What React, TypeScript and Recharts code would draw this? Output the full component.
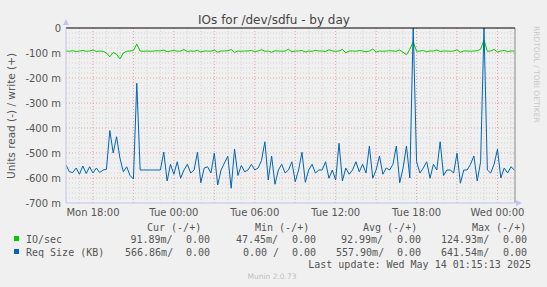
import React from "react";
import { LineChart, Line, XAxis, YAxis, ReferenceLine } from "recharts";

// 15-minute samples, hours since Mon 16:00
const HOURS_STEP = 0.25;

// IO/sec (read, in milli units) — drawn negative
const IO_READ = [
  92, 93, 91, 94, 92, 90, 93, 92, 88, 94,
  92, 93, 100, 115, 98, 105, 124, 100, 93, 92,
  90, 64, 92, 93, 92, 93, 92, 91, 92, 88,
  95, 92, 90, 93, 92, 86, 94, 92, 93, 89,
  96, 92, 92, 93, 88, 97, 92, 92, 91, 86,
  98, 92, 93, 92, 92, 90, 94, 92, 87, 93,
  92, 97, 91, 92, 93, 92, 85, 95, 92, 92,
  90, 96, 92, 93, 89, 92, 92, 94, 87, 92,
  93, 92, 86, 99, 92, 92, 93, 90, 92, 95,
  92, 84, 96, 92, 93, 92, 91, 92, 93, 88,
  97, 107, 85, 55, 93, 92, 90, 95, 92, 92,
  88, 94, 92, 92, 93, 92, 87, 97, 92, 92,
  93, 92, 91, 85, 48, 93, 92, 86, 96, 92,
  90, 94, 92, 92,
];

// Req Size (KB) (read, in milli units) — drawn negative
const REQ_READ = [
  548, 575, 578, 560, 585, 552, 582, 555, 580, 560,
  578, 568, 565, 410, 500, 435, 520, 575, 555, 590,
  604, 221, 568, 568, 568, 568, 568, 568, 568, 496,
  612, 545, 585, 535, 601, 568, 545, 580, 568, 497,
  619, 560, 555, 580, 501, 628, 568, 540, 513, 641,
  484, 590, 550, 575, 568, 545, 568, 560, 530, 455,
  608, 512, 625, 568, 545, 580, 568, 535, 615, 568,
  497, 617, 568, 545, 580, 568, 568, 535, 601, 568,
  608, 461, 612, 560, 585, 568, 535, 575, 545, 580,
  472, 601, 568, 512, 585, 560, 568, 545, 472, 619,
  560, 472, 600, 0, 535, 580, 560, 535, 601, 545,
  568, 455, 590, 568, 568, 580, 501, 621, 568, 568,
  545, 512, 612, 535, 0, 568, 580, 545, 485, 600,
  560, 580, 555, 568,
];

const X_DOMAIN_END = 33.3;
const X_TICKS = [2, 8, 14, 20, 26, 32];
const X_TICK_LABELS = ["Mon 18:00", "Tue 00:00", "Tue 06:00", "Tue 12:00", "Tue 18:00", "Wed 00:00"];
const X_MAJOR_GRID = [2, 5, 8, 11, 14, 17, 20, 23, 26, 29, 32];
const X_MINOR_GRID = [1, 3, 4, 6, 7, 9, 10, 12, 13, 15, 16, 18, 19, 21, 22, 24, 25, 27, 28, 30, 31, 33];
const Y_TICKS = [0, -100, -200, -300, -400, -500, -600, -700];
const Y_TICK_LABELS = ["0", "-100 m", "-200 m", "-300 m", "-400 m", "-500 m", "-600 m", "-700 m"];
const Y_MINOR_GRID: number[] = [];
for (let v = -20; v > -700; v -= 20) if (v % 100 !== 0) Y_MINOR_GRID.push(v);

const SERIES_NAMES = ["IO/sec", "Req Size (KB)"];
const CUR = [["91.89m/", "0.00"], ["566.86m/", "0.00"]];
const MIN = [["47.45m/", "0.00"], ["0.00 /", "0.00"]];
const AVG = [["92.99m/", "0.00"], ["557.90m/", "0.00"]];
const MAX = [["124.93m/", "0.00"], ["641.54m/", "0.00"]];

const GREEN = "#00cc00";
const BLUE = "#0066b3";

const table = IO_READ.map((v, i) => ({
  t: i * HOURS_STEP,
  io: -v,
  req: -REQ_READ[i],
}));

const MONO = "'DejaVu Sans Mono', monospace";
const SANS = "'DejaVu Sans', sans-serif";

export default function App() {
  const rows = [0, 1];
  const colStarts = [
    [130.5, 186],
    [236, 292],
    [341, 397],
    [441, 503],
  ];
  const rowStarts2 = [
    [125, 186],
    [243, 292],
    [336, 397],
    [441, 503],
  ];
  const stats = [CUR, MIN, AVG, MAX];
  return (
    <div style={{ position: "absolute", left: 0, top: 0, width: 547, height: 287, background: "#f0f0f0" }}>
      <LineChart width={547} height={287} data={table} margin={{ top: 28, right: 32, bottom: 54, left: 0 }}>
        <XAxis
          dataKey="t"
          type="number"
          domain={[0, X_DOMAIN_END]}
          ticks={X_TICKS}
          tickFormatter={(v) => X_TICK_LABELS[X_TICKS.indexOf(v)] ?? ""}
          height={30}
          tickLine={false}
          tickSize={0}
          tickMargin={6}
          axisLine={{ stroke: "#c4c4ee" }}
          tick={{ fontFamily: SANS, fontSize: 10, fill: "#555" }}
          allowDataOverflow
        />
        <YAxis
          type="number"
          domain={[-700, 0]}
          ticks={Y_TICKS}
          tickFormatter={(v) => Y_TICK_LABELS[Y_TICKS.indexOf(v)] ?? ""}
          width={66}
          tickLine={false}
          tickSize={0}
          tickMargin={5}
          axisLine={{ stroke: "#c4c4ee" }}
          tick={{ fontFamily: SANS, fontSize: 10, fill: "#555" }}
          allowDataOverflow
        />
        {Y_MINOR_GRID.map((v) => (
          <ReferenceLine key={"ym" + v} y={v} stroke="#d4d4d4" strokeDasharray="1 2" />
        ))}
        {X_MINOR_GRID.map((v) => (
          <ReferenceLine key={"xm" + v} x={v} stroke="#d4d4d4" strokeDasharray="1 2" />
        ))}
        {Y_TICKS.slice(1, 7).map((v) => (
          <ReferenceLine key={"yM" + v} y={v} stroke="#e8a0a0" strokeDasharray="1 2" />
        ))}
        {X_MAJOR_GRID.map((v) => (
          <ReferenceLine key={"xM" + v} x={v} stroke="#e8a0a0" strokeDasharray="1 2" />
        ))}
        <ReferenceLine x={X_DOMAIN_END} stroke="#888" />
        <Line type="linear" dataKey="io" stroke={GREEN} strokeWidth={1} dot={false} isAnimationActive={false} />
        <Line type="linear" dataKey="req" stroke={BLUE} strokeWidth={1} dot={false} isAnimationActive={false} />
        <ReferenceLine y={0} stroke="#000" />
      </LineChart>
      <svg width={547} height={287} style={{ position: "absolute", left: 0, top: 0, pointerEvents: "none" }}>
        <text x={274} y={23.5} textAnchor="middle" fontFamily={SANS} fontSize={12} fill="#444">
          IOs for /dev/sdfu - by day
        </text>
        <text
          x={0}
          y={0}
          transform="translate(14.5 116) rotate(-90)"
          textAnchor="middle"
          fontFamily={SANS}
          fontSize={10.5}
          fill="#555"
        >
          Units read (-) / write (+)
        </text>
        <text x={0} y={0} transform="translate(534 26) rotate(90)" fontFamily={SANS} fontSize={7.5} fill="#c8c8c8">
          RRDTOOL / TOBI OETIKER
        </text>
        <polygon points="63,25 69,25 66,19" fill="#c4c4ee" />
        <polygon points="516,200 516,206 522,203" fill="#c4c4ee" />
        {["Cur (-/+)", "Min (-/+)", "Avg (-/+)", "Max (-/+)"].map((h, i) => (
          <text key={h} x={[147, 255, 363, 472][i]} y={231} fontFamily={MONO} fontSize={10} fill="#555" style={{ whiteSpace: "pre" }}>
            {h}
          </text>
        ))}
        {rows.map((r) => (
          <g key={r}>
            <rect x={14} y={r === 0 ? 236 : 249} width={5} height={5} fill={r === 0 ? GREEN : BLUE} />
            <text x={26} y={r === 0 ? 243 : 256} fontFamily={MONO} fontSize={10} fill="#555" style={{ whiteSpace: "pre" }}>
              {SERIES_NAMES[r]}
            </text>
            {stats.map((s, c) => (
              <g key={c}>
                <text x={(r === 0 ? colStarts : rowStarts2)[c][0]} y={r === 0 ? 243 : 256} fontFamily={MONO} fontSize={10} fill="#555" style={{ whiteSpace: "pre" }}>
                  {s[r][0]}
                </text>
                <text x={(r === 0 ? colStarts : rowStarts2)[c][1]} y={r === 0 ? 243 : 256} fontFamily={MONO} fontSize={10} fill="#555" style={{ whiteSpace: "pre" }}>
                  {s[r][1]}
                </text>
              </g>
            ))}
          </g>
        ))}
        <text x={531} y={268} textAnchor="end" fontFamily={MONO} fontSize={10} fill="#555" style={{ whiteSpace: "pre" }}>
          Last update: Wed May 14 01:15:13 2025
        </text>
        <text x={272} y={279} textAnchor="middle" fontFamily={SANS} fontSize={7.5} fill="#c0c0c0">
          Munin 2.0.73
        </text>
      </svg>
    </div>
  );
}
